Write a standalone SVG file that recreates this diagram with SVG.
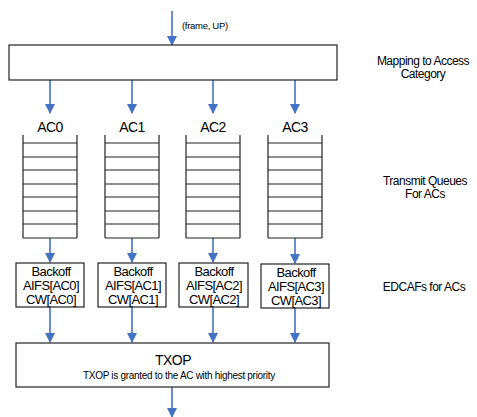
<svg xmlns="http://www.w3.org/2000/svg" width="477" height="417" viewBox="0 0 477 417">
<defs>
<marker id="ah" markerWidth="10" markerHeight="10" refX="9" refY="5" orient="auto" markerUnits="userSpaceOnUse">
<path d="M0,0 L10,5 L0,10 Z" fill="#4472C4"/>
</marker>
<style>
.box{fill:#fff;stroke:#222;stroke-width:1.2}
.q{fill:none;stroke:#222;stroke-width:1.2}
.ar{stroke:#4472C4;stroke-width:1.6;fill:none;marker-end:url(#ah)}
text{font-family:"Liberation Sans",Arial,sans-serif;fill:#000;text-anchor:middle}
.lab{font-size:14px;letter-spacing:-0.5px}
.bk{font-size:13px;letter-spacing:-0.6px}
.side{font-size:12px;letter-spacing:-0.5px}
</style>
</defs>
<g id="connectors">
<line class="ar" x1="172" y1="11" x2="172" y2="45"/>
<line class="ar" x1="50" y1="80" x2="50" y2="113"/>
<line class="ar" x1="132" y1="80" x2="132" y2="113"/>
<line class="ar" x1="213" y1="80" x2="213" y2="113"/>
<line class="ar" x1="295" y1="80" x2="295" y2="113"/>
<line class="ar" x1="50" y1="238" x2="50" y2="262"/>
<line class="ar" x1="132" y1="238" x2="132" y2="262"/>
<line class="ar" x1="213" y1="238" x2="213" y2="262"/>
<line class="ar" x1="295" y1="238" x2="295" y2="263"/>
<line class="ar" x1="50" y1="307" x2="50" y2="342"/>
<line class="ar" x1="132" y1="307" x2="132" y2="342"/>
<line class="ar" x1="213" y1="307" x2="213" y2="342"/>
<line class="ar" x1="295" y1="308" x2="295" y2="342"/>
<line class="ar" x1="172" y1="387" x2="172" y2="417"/>
<text x="182" y="29" style="font-size:9.5px;text-anchor:start;letter-spacing:-0.3px">(frame, UP)</text>
</g>
<g id="mapping">
<rect class="box" x="9" y="45" width="328" height="35"/>
</g>
<g id="ac0">
<text class="lab" x="50" y="132">AC0</text>
<path class="q" d="M23,135 V238 M77,135 V238 M23,143 H77 M23,157 H77 M23,170 H77 M23,184 H77 M23,197 H77 M23,211 H77 M23,224 H77 M23,238 H77"/>
</g>
<g id="ac1">
<text class="lab" x="132" y="132">AC1</text>
<path class="q" d="M105,135 V238 M159,135 V238 M105,143 H159 M105,157 H159 M105,170 H159 M105,184 H159 M105,197 H159 M105,211 H159 M105,224 H159 M105,238 H159"/>
</g>
<g id="ac2">
<text class="lab" x="213" y="132">AC2</text>
<path class="q" d="M186,135 V238 M240,135 V238 M186,143 H240 M186,157 H240 M186,170 H240 M186,184 H240 M186,197 H240 M186,211 H240 M186,224 H240 M186,238 H240"/>
</g>
<g id="ac3">
<text class="lab" x="295" y="132">AC3</text>
<path class="q" d="M268,135 V238 M322,135 V238 M268,143 H322 M268,157 H322 M268,170 H322 M268,184 H322 M268,197 H322 M268,211 H322 M268,224 H322 M268,238 H322"/>
</g>
<g id="edcaf0">
<rect class="box" x="16" y="263" width="68" height="44"/>
<text class="bk" x="51" y="276">Backoff</text>
<text class="bk" x="51" y="290">AIFS[AC0]</text>
<text class="bk" x="51" y="304">CW[AC0]</text>
</g>
<g id="edcaf1">
<rect class="box" x="98" y="263" width="68" height="44"/>
<text class="bk" x="133" y="276">Backoff</text>
<text class="bk" x="133" y="290">AIFS[AC1]</text>
<text class="bk" x="133" y="304">CW[AC1]</text>
</g>
<g id="edcaf2">
<rect class="box" x="179" y="263" width="69" height="44"/>
<text class="bk" x="214" y="276">Backoff</text>
<text class="bk" x="214" y="290">AIFS[AC2]</text>
<text class="bk" x="214" y="304">CW[AC2]</text>
</g>
<g id="edcaf3">
<rect class="box" x="261" y="264" width="68" height="44"/>
<text class="bk" x="296" y="277">Backoff</text>
<text class="bk" x="296" y="291">AIFS[AC3]</text>
<text class="bk" x="296" y="305">CW[AC3]</text>
</g>
<g id="txop">
<rect class="box" x="16" y="343" width="313" height="44"/>
<text x="173" y="365" style="font-size:14px;letter-spacing:-0.5px">TXOP</text>
<text x="179" y="379" style="font-size:10px;letter-spacing:-0.3px">TXOP is granted to the AC with highest priority</text>
</g>
<g id="labels">
<text class="side" x="423" y="65">Mapping to Access</text>
<text class="side" x="423" y="78">Category</text>
<text class="side" x="425" y="185">Transmit Queues</text>
<text class="side" x="425" y="198">For ACs</text>
<text class="side" x="424" y="291">EDCAFs for ACs</text>
</g>
</svg>
